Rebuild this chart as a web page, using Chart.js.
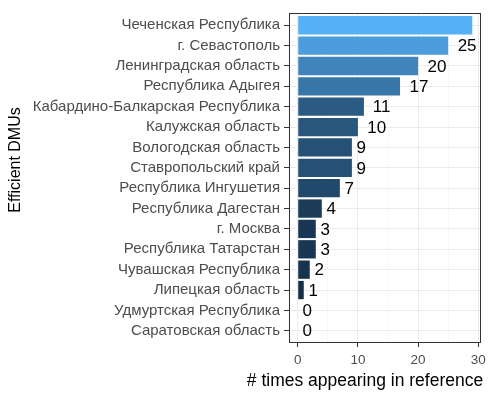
<!DOCTYPE html>
<html><head><meta charset="utf-8">
<script src="https://cdn.jsdelivr.net/npm/chart.js@4"></script>
<style>html,body{margin:0;padding:0;background:#fff}#wrap{width:491px;height:398px}</style>
</head><body><div id="wrap"><canvas id="c" width="491" height="398"></canvas></div>
<script>
const categories = [
  "Чеченская Республика",
  "г. Севастополь",
  "Ленинградская область",
  "Республика Адыгея",
  "Кабардино-Балкарская Республика",
  "Калужская область",
  "Вологодская область",
  "Ставропольский край",
  "Республика Ингушетия",
  "Республика Дагестан",
  "г. Москва",
  "Республика Татарстан",
  "Чувашская Республика",
  "Липецкая область",
  "Удмуртская Республика",
  "Саратовская область"
];
const counts = [29, 25, 20, 17, 11, 10, 9, 9, 7, 4, 3, 3, 2, 1, 0, 0];
const xTickLabels = [0, 10, 20, 30];
const xMinorTicks = [5, 15, 25];
const yTitle = "Efficient DMUs";
const xTitle = "# times appearing in reference";

// ggplot-like continuous fill gradient (Lab interpolation)
function hex2rgb(h){return [1,3,5].map(i=>parseInt(h.substr(i,2),16)/255);}
function lin(c){return c<=0.04045?c/12.92:Math.pow((c+0.055)/1.055,2.4);}
function delin(c){return c<=0.0031308?12.92*c:1.055*Math.pow(c,1/2.4)-0.055;}
const WN=[0.95047,1,1.08883];
function rgb2lab(rgb){
  const [r,g,b]=rgb.map(lin);
  const X=r*0.4124564+g*0.3575761+b*0.1804375;
  const Y=r*0.2126729+g*0.7151522+b*0.0721750;
  const Z=r*0.0193339+g*0.1191920+b*0.9503041;
  const f=t=>t>0.008856?Math.cbrt(t):(7.787*t+16/116);
  const fx=f(X/WN[0]),fy=f(Y/WN[1]),fz=f(Z/WN[2]);
  return [116*fy-16,500*(fx-fy),200*(fy-fz)];
}
function lab2rgb(lab){
  const fy=(lab[0]+16)/116,fx=fy+lab[1]/500,fz=fy-lab[2]/200;
  const fi=t=>t*t*t>0.008856?t*t*t:(t-16/116)/7.787;
  const X=fi(fx)*WN[0],Y=fi(fy)*WN[1],Z=fi(fz)*WN[2];
  const r=X*3.2404542+Y*-1.5371385+Z*-0.4985314;
  const g=X*-0.9692660+Y*1.8760108+Z*0.0415560;
  const b=X*0.0556434+Y*-0.2040259+Z*1.0572252;
  return [r,g,b].map(c=>Math.round(Math.min(1,Math.max(0,delin(c)))*255));
}
const lowLab=rgb2lab(hex2rgb('#132B43')), highLab=rgb2lab(hex2rgb('#56B1F7'));
const vmin=Math.min(...counts), vmax=Math.max(...counts);
function fillFor(v){
  const t=(v-vmin)/(vmax-vmin);
  const lab=lowLab.map((l,i)=>l+(highLab[i]-l)*t);
  const c=lab2rgb(lab);
  return `rgb(${c[0]},${c[1]},${c[2]})`;
}

const FONT='"Liberation Sans", Arial, sans-serif';

const panelPlugin={
  id:'panel',
  afterDatasetsDraw(chart){
    const {ctx,chartArea:a}=chart;
    const meta=chart.getDatasetMeta(0);
    ctx.save();
    ctx.beginPath();
    ctx.rect(a.left,a.top,a.right-a.left,a.bottom-a.top);
    ctx.clip();
    ctx.font='17px '+FONT;
    ctx.fillStyle='#000';
    ctx.textAlign='left';
    ctx.textBaseline='middle';
    meta.data.forEach((el,i)=>{
      const txt=String(counts[i]);
      const w=ctx.measureText(txt).width;
      ctx.fillText(txt,el.x+w*0.5,el.y+1);
    });
    ctx.restore();
  },
  afterDraw(chart){
    const {ctx,chartArea:a}=chart;
    ctx.save();
    ctx.strokeStyle='#333333';
    ctx.lineWidth=1;
    ctx.strokeRect(a.left+0.5,a.top+0.5,a.right-a.left-1,a.bottom-a.top-1);
    ctx.fillStyle='#000';
    ctx.textAlign='center';
    ctx.textBaseline='middle';
    ctx.font='17.5px '+FONT;
    ctx.fillText(xTitle,365,381);
    ctx.font='16px '+FONT;
    ctx.translate(16,160);
    ctx.rotate(-Math.PI/2);
    ctx.fillText(yTitle,0,0);
    ctx.restore();
  }
};

new Chart(document.getElementById('c'),{
  type:'bar',
  data:{
    datasets:[{
      data:counts.map((v,i)=>({x:v,y:i})),
      backgroundColor:counts.map(fillFor),
      borderWidth:0,
      barPercentage:0.9,
      categoryPercentage:1
    }]
  },
  options:{
    indexAxis:'y',
    responsive:false,
    animation:false,
    layout:{padding:{top:2,right:10,left:0,bottom:0}},
    plugins:{legend:{display:false},tooltip:{enabled:false}},
    scales:{
      y:{
        type:'linear',
        reverse:true,
        min:-0.6,max:categories.length-0.4,
        offset:false,
        afterBuildTicks:s=>{s.ticks=categories.map((_,i)=>({value:i}));},
        afterFit:s=>{s.width=289;},
        ticks:{autoSkip:false,callback:v=>categories[v],color:'#4D4D4D',font:{family:FONT,size:15},padding:4},
        grid:{offset:false,color:'#EBEBEB',lineWidth:1,tickColor:'#333333',tickLength:5},
        border:{display:false}
      },
      x:{
        type:'linear',
        min:-1.45,max:30.45,
        offset:false,
        afterBuildTicks:s=>{s.ticks=[...xTickLabels,...xMinorTicks].sort((a,b)=>a-b).map(v=>({value:v}));},
        afterFit:s=>{s.height=55;},
        ticks:{autoSkip:false,maxRotation:0,callback:v=>xTickLabels.includes(v)?String(v):'',color:'#4D4D4D',font:{family:FONT,size:13.5},padding:5},
        grid:{offset:false,
          color:c=>xTickLabels.includes(c.tick&&c.tick.value)?'#EBEBEB':'#F2F2F2',
          lineWidth:c=>xTickLabels.includes(c.tick&&c.tick.value)?1:0.6,
          tickColor:c=>xTickLabels.includes(c.tick&&c.tick.value)?'#333333':'rgba(0,0,0,0)',
          tickLength:4},
        border:{display:false}
      }
    }
  },
  plugins:[panelPlugin]
});
</script>
</body></html>
